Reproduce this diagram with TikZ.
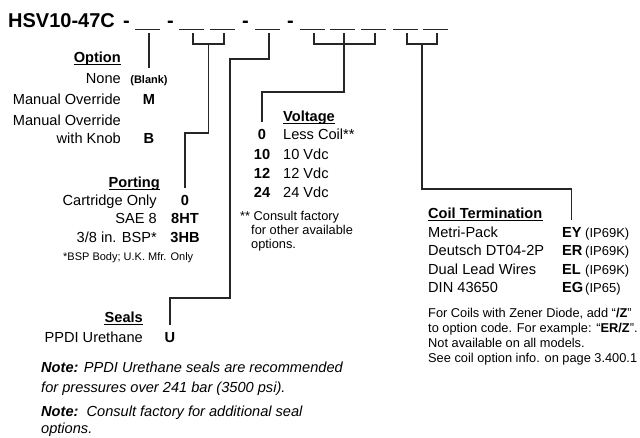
\documentclass[tikz,border=0pt]{standalone}
\usepackage{fontspec}
\setmainfont{Liberation Sans}
\usetikzlibrary{calc}

\tikzset{
    wire/.style={draw=black!85, line width=1.1pt},
    blankline/.style={draw=black!85, line width=0.9pt},
    lbl/.style={font=\fontsize{14.6}{17}\selectfont, inner sep=0pt},
    hdr/.style={font=\fontsize{14.6}{17}\selectfont\bfseries, inner sep=0pt},
    code/.style={font=\fontsize{14.6}{17}\selectfont\bfseries, inner xsep=0pt, inner ysep=7pt, anchor=base},
    tiny/.style={font=\fontsize{11}{13}\selectfont, inner sep=0pt},
    note/.style={font=\fontsize{12.8}{15}\selectfont, inner sep=0pt, anchor=base west},
    big/.style={font=\fontsize{20}{24}\selectfont\bfseries, inner sep=0pt, anchor=base west},
}

\begin{document}
\begin{tikzpicture}[x=1pt, y=-1pt]
    \useasboundingbox (0,0) rectangle (640,437);

    \node[big] (model) at (8,27) {HSV10-47C};
    \foreach \i/\x in {1/123, 2/167, 3/242, 4/287}
        \node[big] (dash\i) at (\x,27) {-};
    \foreach \i/\x in {1/135, 2/179, 3/210, 4/255, 5/300, 6/330, 7/361, 8/393, 9/423} {
        \draw[blankline] (\x,29) -- ++(25,0);
        \coordinate (b\i) at (\x+14,33);
    }

    % option
    \node[hdr, anchor=base east] (optHead) at (121,62) {Option};
    \foreach \txt/\y [count=\i] in {None/83, Manual Override/104, Manual Override/125, with Knob/143}
        \node[lbl, anchor=base east] (optLbl\i) at (121,\y) {\txt};
    \node[code, font=\fontsize{11}{13}\selectfont\bfseries] (optBlank) at (149,83) {(Blank)};
    \foreach \c/\y in {M/104, B/143}
        \node[code] (opt\c) at (149,\y) {\c};

    % porting
    \node[hdr, anchor=base east] (portHead) at (160,187) {Porting};
    \foreach \txt/\c/\y in {Cartridge Only/0/205, SAE 8/8HT/223, {3/8 in. BSP*}/3HB/242} {
        \node[lbl, anchor=base east] (portLbl\c) at (157,\y) {\txt};
        \node[code] (port\c) at (185,\y) {\c};
    }
    \node[tiny, anchor=base west] (portNote) at (63,260) {*BSP Body; U.K. Mfr. Only};

    % voltage
    \node[hdr, anchor=base west] (voltHead) at (283,121) {Voltage};
    \foreach \c/\txt/\y in {0/Less Coil**/139, 10/10 Vdc/159, 12/12 Vdc/178, 24/24 Vdc/197} {
        \node[code] (volt\c) at (262,\y) {\c};
        \node[lbl, anchor=base west] (voltLbl\c) at (283,\y) {\txt};
    }
    \foreach \txt/\x/\y [count=\i] in {** Consult factory/240/220, for other available/251/234, options./251/248}
        \node[note] (voltNote\i) at (\x,\y) {\txt};

    % seals
    \node[hdr, anchor=base east] (sealHead) at (143,322) {Seals};
    \node[lbl, anchor=base east] (sealLbl) at (143,342) {PPDI Urethane};
    \node[code] (sealU) at (170,342) {U};
    \foreach \txt/\y [count=\i] in {{\textbf{Note:} PPDI Urethane seals are recommended}/372, {for pressures over 241 bar (3500 psi).}/392, {\textbf{Note:}\ \ Consult factory for additional seal}/416, options./433}
        \node[lbl, font=\fontsize{14.6}{17}\selectfont\itshape, anchor=base west] (sealNote\i) at (41,\y) {\txt};

    % coil termination
    \node[hdr, anchor=base west] (coilHead) at (428,218) {Coil Termination};
    \foreach \txt/\c/\ip/\y in {Metri-Pack/EY/IP69K/237, Deutsch DT04-2P/ER/IP69K/255, Dual Lead Wires/EL/IP69K/274, DIN 43650/EG/IP65/292} {
        \node[lbl, anchor=base west] (coilLbl\c) at (428,\y) {\txt};
        \node[code, anchor=base west] (coil\c) at (562,\y) {\c};
        \node[lbl, font=\fontsize{13}{15}\selectfont, anchor=base west] (coilIP\c) at (585,\y) {(\ip)};
    }
    \foreach \txt/\y [count=\i] in {{For Coils with Zener Diode, add “\textbf{/Z}”}/317, {to option code. For example: “\textbf{ER/Z}”.}/332, Not available on all models./347, See coil option info. on page 3.400.1/362}
        \node[note] (coilNote\i) at (428,\y) {\txt};

    % underlines
    \foreach \h in {optHead, portHead, voltHead, sealHead, coilHead}
        \draw[line width=0.9pt] ([yshift=-2pt]\h.base west) -- ([yshift=-2pt]\h.base east);

    % connectors
    \draw[wire] (b1) -- (optBlank.north);
    \draw[wire] (b2) -- ++(0,11) -| (b3);
    \coordinate (portMid) at ($(b2)!.5!(b3)+(0,11)$);
    \draw[wire] (portMid) -- ++(0,89) -| (port0.north);
    \draw[wire] (b4) -- ++(0,26) -| ++(-39,239) -| (sealU.north);
    \draw[wire] (b5) -- ++(0,11) -| (b7);
    \draw[wire] (b6) -- ++(0,59) -| (volt0.north);
    \draw[wire] (b8) -- ++(0,11) -| (b9);
    \coordinate (coilMid) at ($(b8)!.5!(b9)+(0,11)$);
    \draw[wire] (coilMid) -- ++(0,145) -| (coilEY.north);
\end{tikzpicture}
\end{document}
